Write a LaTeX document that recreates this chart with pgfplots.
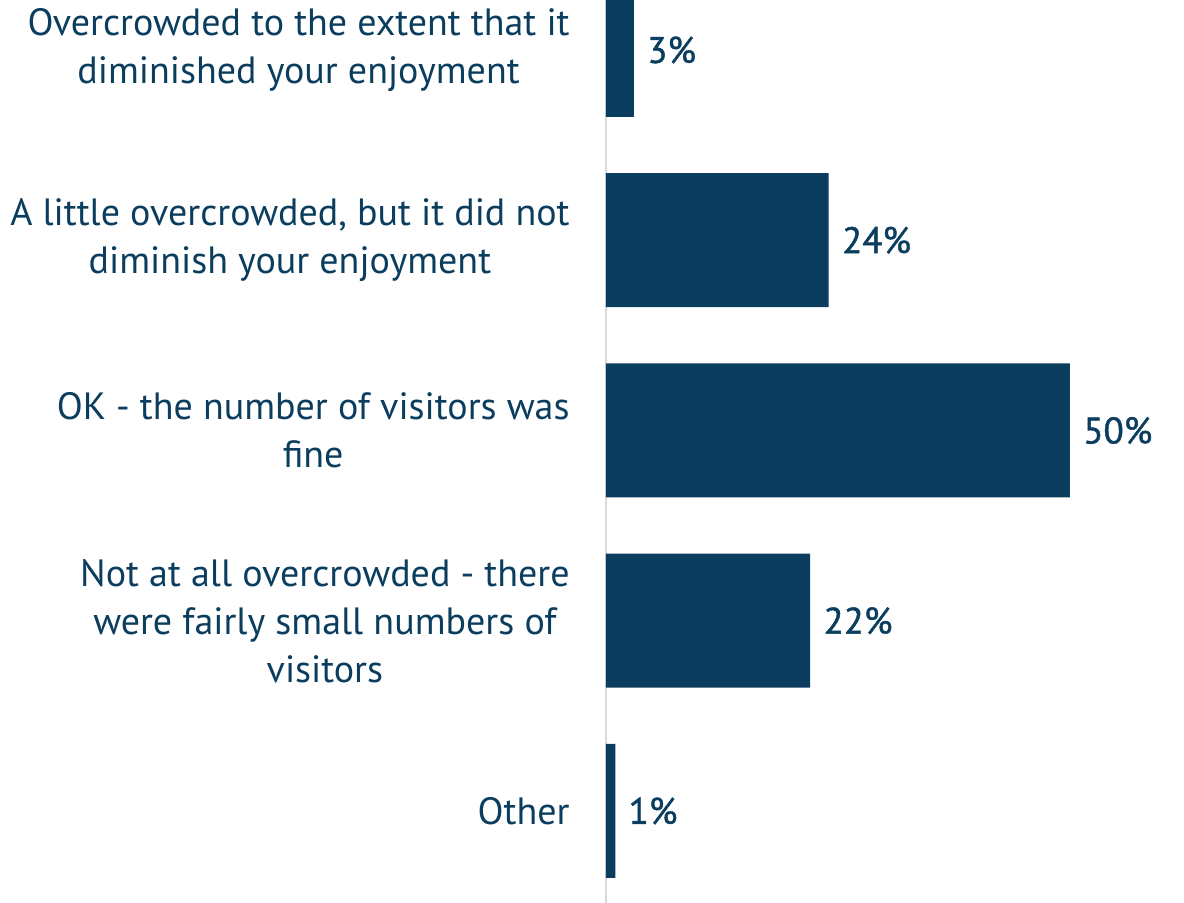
\documentclass[border=0pt]{standalone}
\usepackage{fontspec}
\setmainfont{PT Sans}
\newfontfamily\valfont[FakeBold=1.2]{PT Sans}
\usepackage{pgfplots}
\pgfplotsset{compat=1.18}
\definecolor{navy}{HTML}{0B3D5E}
\definecolor{axgray}{HTML}{D9D9D9}
\begin{document}
\begin{tikzpicture}
\useasboundingbox (-303pt,0pt) rectangle (289pt,451.5pt);
\begin{axis}[
  at={(0pt,0pt)}, anchor=south west,
  scale only axis,
  width=289pt, height=451.5pt,
  xmin=0, xmax=62.284, ymin=-0.4836, ymax=4.2627,
  xbar, bar width=67pt, bar shift=0pt,
  axis x line=none, axis y line=left,
  axis line style={-, draw=axgray, line width=1pt},
  ytick={0,1,2,3,4},
  yticklabels={Other, {Not at all overcrowded - there\\were fairly small numbers of\\visitors}, {OK - the number of visitors was\\fine}, {A little overcrowded, but it did not\\diminish your enjoyment}, {Overcrowded to the extent that it\\diminished your enjoyment}},
  major tick length=0pt,
  yticklabel style={align=center, inner sep=0pt, xshift=-18pt, text=navy, font=\fontsize{19}{24}\selectfont},
  /pgf/number format/assume math mode=true,
  nodes near coords={\pgfmathprintnumber{\pgfplotspointmeta}\%},
  nodes near coords style={anchor=west, inner sep=0pt, xshift=6.5pt, text=navy, font=\valfont\fontsize{18.5}{24}\selectfont},
]
\addplot[fill=navy, draw=none] coordinates {(1,0) (22,1) (50,2) (24,3) (3,4)};
\end{axis}
\end{tikzpicture}
\end{document}
